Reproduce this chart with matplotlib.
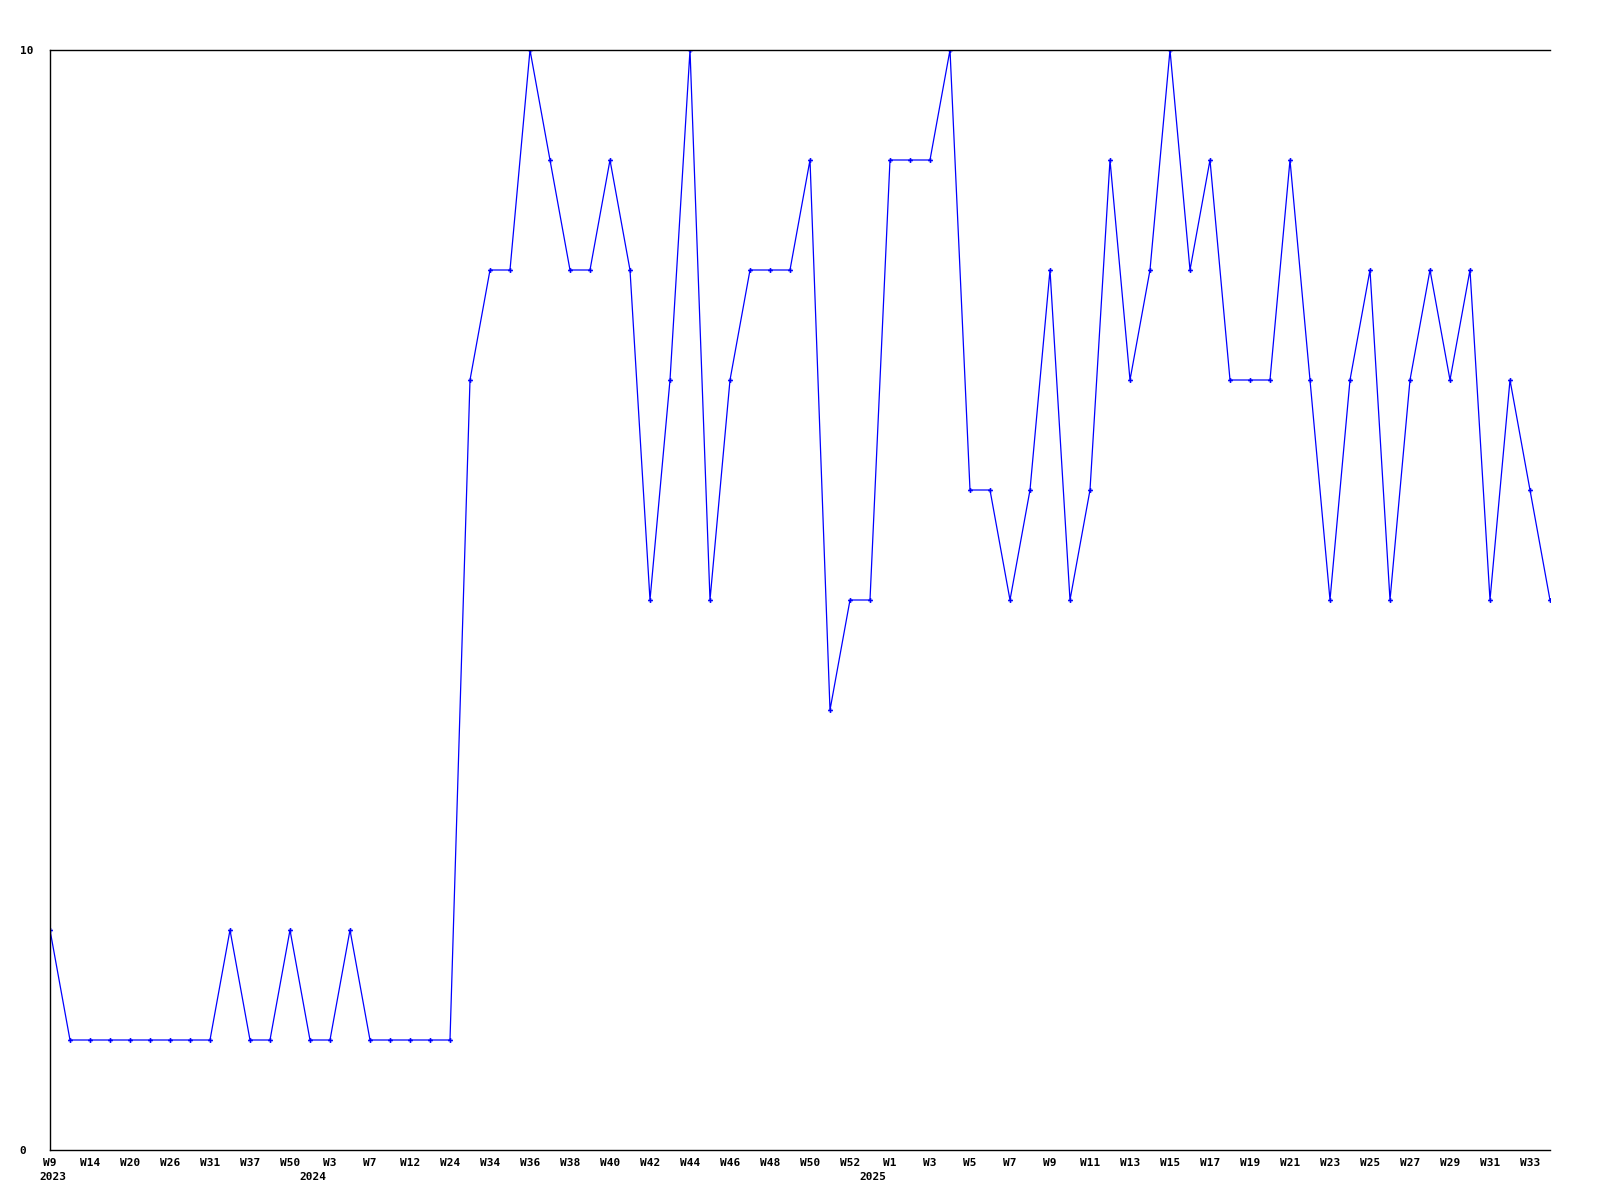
import matplotlib
matplotlib.use('Agg')
import matplotlib.pyplot as plt

# weekly values, one per point
values = [2, 1, 1, 1, 1, 1, 1, 1, 1, 2, 1, 1, 2, 1, 1, 2, 1, 1, 1, 1,
          1, 7, 8, 8, 10, 9, 8, 8, 9, 8, 5, 7, 10, 5, 7, 8, 8, 8, 9, 4,
          5, 5, 9, 9, 9, 10, 6, 6, 5, 6, 8, 5, 6, 9, 7, 8, 10, 8, 9, 7,
          7, 7, 9, 7, 5, 7, 8, 5, 7, 8, 7, 8, 5, 7, 6, 5]

# labels shown on every second point
week_labels = ['W9', 'W14', 'W20', 'W26', 'W31', 'W37', 'W50', 'W3', 'W7',
               'W12', 'W24', 'W34', 'W36', 'W38', 'W40', 'W42', 'W44', 'W46',
               'W48', 'W50', 'W52', 'W1', 'W3', 'W5', 'W7', 'W9', 'W11',
               'W13', 'W15', 'W17', 'W19', 'W21', 'W23', 'W25', 'W27', 'W29',
               'W31', 'W33']

# year label and the index of the point where it starts
years = ['2023', '2024', '2025']
year_pos = [0, 13, 41]

plt.rcParams['font.family'] = ['DejaVu Sans Mono']
plt.rcParams['font.weight'] = 'bold'

fig = plt.figure(figsize=(16, 12), dpi=100)
ax = fig.add_axes([50 / 1600, 50 / 1200, 1500 / 1600, 1100 / 1200])

x = list(range(len(values)))
ax.plot(x, values, color='#0000ff', linewidth=0.9, marker='P',
        markersize=3.5, markeredgewidth=0)

ax.set_xlim(0, len(values) - 1)
ax.set_ylim(0, 10)

ax.spines['right'].set_visible(False)
for s in ['left', 'top', 'bottom']:
    ax.spines[s].set_linewidth(1.0)
    ax.spines[s].set_color('black')

ax.set_yticks([0, 10])
ax.set_yticklabels(['0', '10'], fontsize=8, fontweight='bold')
ax.tick_params(axis='y', length=0, pad=16)
for lbl in ax.get_yticklabels():
    lbl.set_horizontalalignment('left')
    lbl.set_x(-8 / 1500)

ax.set_xticks(x[::2])
ax.set_xticklabels(week_labels, fontsize=8, fontweight='bold')
ax.tick_params(axis='x', length=0, pad=6)

for yr, i in zip(years, year_pos):
    ax.annotate(yr, xy=(i, 0), xycoords='data', xytext=(-11, -22),
                textcoords='offset pixels', ha='left', va='top',
                fontsize=8, fontweight='bold')

fig.savefig('out.png', dpi=100)
